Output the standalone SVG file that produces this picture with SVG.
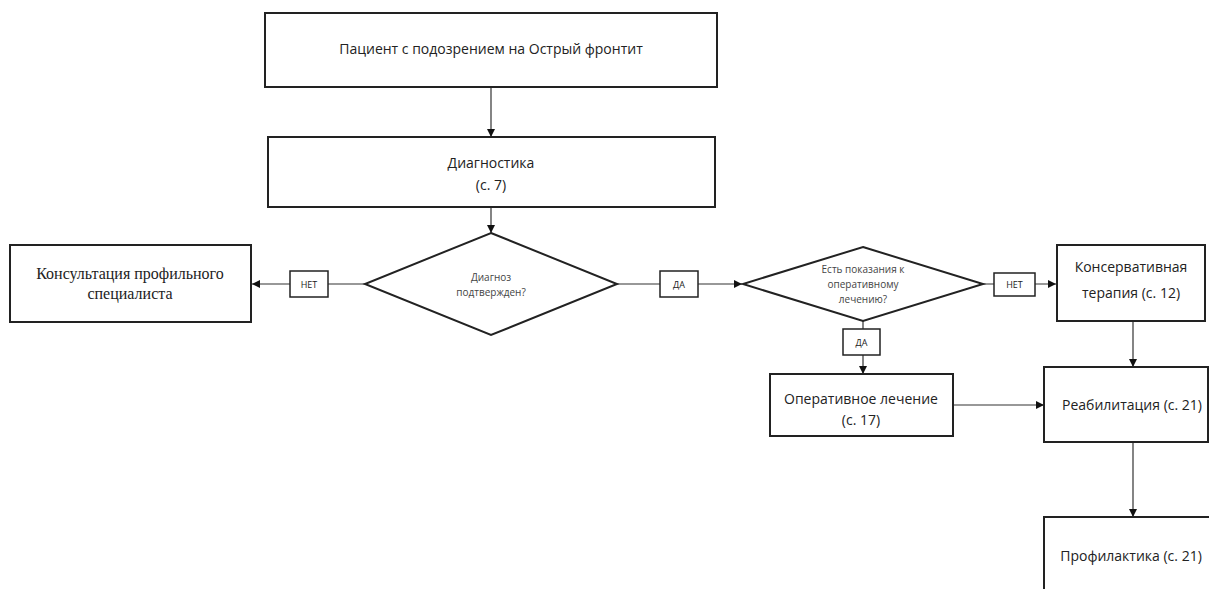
<svg xmlns="http://www.w3.org/2000/svg" width="1209" height="589" viewBox="0 0 1209 589">
<defs>
<marker id="ah" viewBox="0 0 10 10" refX="10" refY="5" markerWidth="8" markerHeight="8" markerUnits="userSpaceOnUse" orient="auto">
<path d="M0,0 L10,5 L0,10 z" fill="#111"/>
</marker>
</defs>
<style>
.box{fill:#fff;stroke:#222;stroke-width:2}
.lbl{fill:#fff;stroke:#222;stroke-width:1.5}
.ln{fill:none;stroke:#333;stroke-width:1.2}
.t{font-family:"Open Sans","Liberation Sans",sans-serif;fill:#222;text-anchor:middle}
.ts{font-family:"Liberation Serif",serif;fill:#222;text-anchor:middle;font-size:16px}
.d{font-size:10px;fill:#444}
.l{font-size:9px}
</style>
<g id="connectors">
<line class="ln" x1="491" y1="87" x2="491" y2="137" marker-end="url(#ah)"/>
<line class="ln" x1="491" y1="207" x2="491" y2="233" marker-end="url(#ah)"/>
<line class="ln" x1="365" y1="284" x2="252" y2="284" marker-end="url(#ah)"/>
<line class="ln" x1="617" y1="284" x2="742" y2="284" marker-end="url(#ah)"/>
<line class="ln" x1="983" y1="284" x2="1056" y2="284" marker-end="url(#ah)"/>
<line class="ln" x1="863" y1="321" x2="863" y2="374" marker-end="url(#ah)"/>
<line class="ln" x1="953" y1="405" x2="1044" y2="405" marker-end="url(#ah)"/>
<line class="ln" x1="1133" y1="321" x2="1133" y2="367" marker-end="url(#ah)"/>
<line class="ln" x1="1133" y1="442" x2="1133" y2="517" marker-end="url(#ah)"/>
<g id="lbl-net1"><rect class="lbl" x="290" y="271" width="38" height="26"/><text class="t l" x="309" y="287.5">НЕТ</text></g>
<g id="lbl-da1"><rect class="lbl" x="660" y="271" width="38" height="26"/><text class="t l" x="679" y="287.5">ДА</text></g>
<g id="lbl-net2"><rect class="lbl" x="994" y="273" width="41" height="23"/><text class="t l" x="1014.5" y="287.5">НЕТ</text></g>
<g id="lbl-da2"><rect class="lbl" x="843" y="329" width="37" height="26"/><text class="t l" x="861.5" y="345.5">ДА</text></g>
</g>
<g id="patient"><rect class="box" x="265" y="13" width="452" height="74"/><text class="t" x="491" y="54" font-size="14">Пациент с подозрением на Острый фронтит</text></g>
<g id="diagnostics"><rect class="box" x="268" y="137" width="447" height="70"/><text class="t" x="491" y="168" font-size="14">Диагностика</text><text class="t" x="491" y="190" font-size="14">(с. 7)</text></g>
<g id="decision1"><polygon class="box" points="491,233 617,284 491,335 365,284"/><text class="t d" x="491" y="281">Диагноз</text><text class="t d" x="491" y="296">подтвержден?</text></g>
<g id="consult"><rect class="box" x="10" y="245" width="241" height="77"/><text class="ts" x="130" y="279">Консультация профильного</text><text class="ts" x="130" y="299">специалиста</text></g>
<g id="decision2"><polygon class="box" points="863,247 983,284 863,321 743,284"/><text class="t d" x="863" y="273">Есть показания к</text><text class="t d" x="863" y="288">оперативному</text><text class="t d" x="863" y="303">лечению?</text></g>
<g id="conservative"><rect class="box" x="1057" y="245" width="148" height="76"/><text class="t" x="1131" y="272" font-size="14">Консервативная</text><text class="t" x="1131" y="298" font-size="14">терапия (с. 12)</text></g>
<g id="surgery"><rect class="box" x="770" y="374" width="183" height="62"/><text class="t" x="861" y="404" font-size="14">Оперативное лечение</text><text class="t" x="861" y="425" font-size="14">(с. 17)</text></g>
<g id="rehab"><rect class="box" x="1044" y="367" width="164" height="75"/><text class="t" x="1132" y="410" font-size="14">Реабилитация (с. 21)</text></g>
<g id="prevention"><rect class="box" x="1044" y="517" width="180" height="90"/><text class="t" x="1131" y="561" font-size="14">Профилактика (с. 21)</text></g>
</svg>
